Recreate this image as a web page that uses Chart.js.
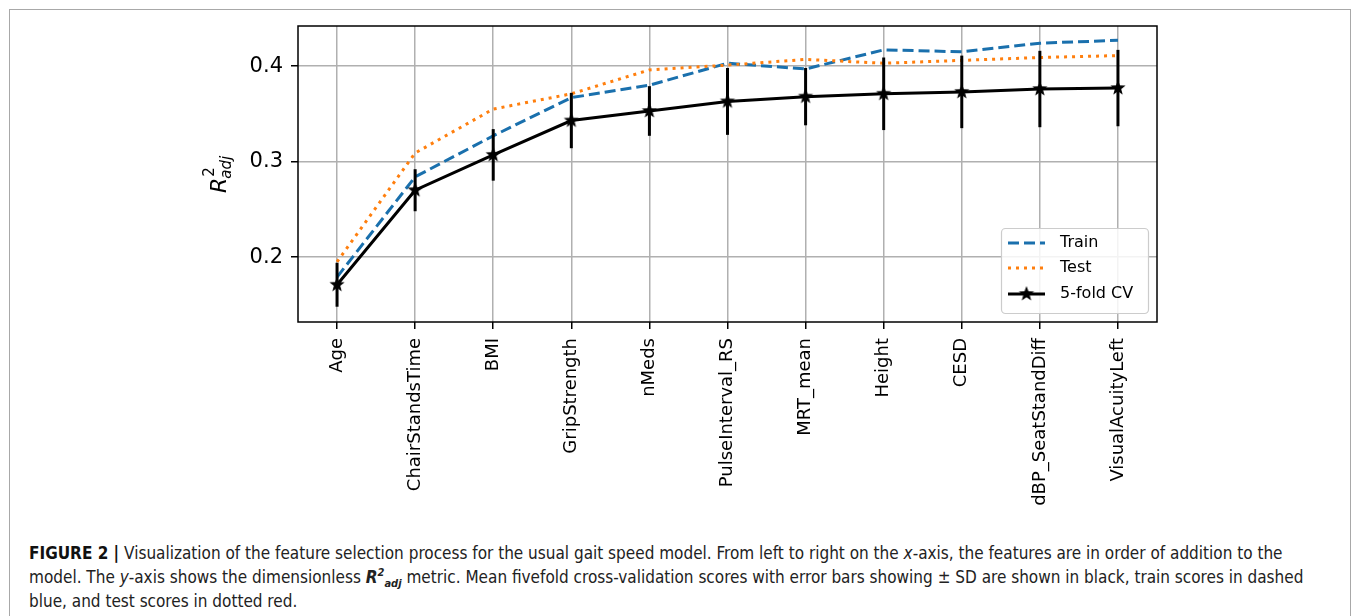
<!DOCTYPE html>
<html>
<head>
<meta charset="utf-8">
<script src="https://cdn.jsdelivr.net/npm/chart.js@4.4.1/dist/chart.umd.min.js"></script>
<style>
  html, body { margin: 0; padding: 0; background: #fff; }
  body { width: 1355px; height: 616px; position: relative; overflow: hidden; }
  #frame { position: absolute; left: 9px; top: 9px; width: 1342px; height: 640px; border: 1.5px solid #a8a8a8; box-sizing: border-box; }
  #wrap { position: absolute; left: 0; top: 0; width: 1355px; height: 530px; }
  #caption { position: absolute; left: 29px; top: 541px; width: 1310px; font-family: "Liberation Sans Narrow", "DejaVu Sans Condensed", sans-serif; font-size: 17px; line-height: 24px; color: #222; white-space: nowrap; }
  #caption b { font-weight: bold; color: #111; }
  .rsym { font-weight: bold; font-style: italic; }
  .rsym sup, .rsym sub { font-size: 11px; line-height: 0; }
</style>
</head>
<body>
<div id="frame"></div>
<div id="wrap"><canvas id="grafico"></canvas></div>
<div id="caption">
  <b>FIGURE 2 |</b> Visualization of the feature selection process for the usual gait speed model. From left to right on the <i>x</i>-axis, the features are in order of addition to the<br>
  model. The <i>y</i>-axis shows the dimensionless <span class="rsym">R<sup>2</sup><sub>adj</sub></span> metric. Mean fivefold cross-validation scores with error bars showing ± SD are shown in black, train scores in dashed<br>
  blue, and test scores in dotted red.
</div>
<script>
// datos
const features = ['Age', 'ChairStandsTime', 'BMI', 'GripStrength', 'nMeds', 'PulseInterval_RS',
                  'MRT_mean', 'Height', 'CESD', 'dBP_SeatStandDiff', 'VisualAcuityLeft'];
const trainR2 = [0.179, 0.284, 0.327, 0.367, 0.380, 0.403, 0.397, 0.417, 0.415, 0.424, 0.427];
const testR2  = [0.195, 0.309, 0.355, 0.371, 0.396, 0.401, 0.407, 0.403, 0.406, 0.409, 0.411];
const cvMean  = [0.171, 0.270, 0.307, 0.343, 0.353, 0.363, 0.368, 0.371, 0.373, 0.376, 0.377];
const cvStd   = [0.023, 0.022, 0.027, 0.029, 0.026, 0.035, 0.030, 0.038, 0.038, 0.040, 0.040];
const yTicks  = [0.2, 0.3, 0.4];

const AZUL = '#1a70ad';
const NARANJA = '#ff7f0e';

// marcador estrella rellena, como el '*' de matplotlib
function crearEstrella(r) {
    const c = document.createElement('canvas');
    const s = Math.ceil(r * 2 + 2);
    c.width = s; c.height = s;
    const g = c.getContext('2d');
    g.translate(s / 2, s / 2);
    g.beginPath();
    for (let k = 0; k < 10; k++) {
        const rad = k % 2 === 0 ? r : r * 0.42;
        const a = -Math.PI / 2 + k * Math.PI / 5;
        g.lineTo(Math.cos(a) * rad, Math.sin(a) * rad);
    }
    g.closePath();
    g.fillStyle = '#000';
    g.fill();
    return c;
}
const estrella = crearEstrella(8);

const pluginEjes = {
    id: 'pluginEjes',
    afterDatasetsDraw(chart) {
        const ctx = chart.ctx;
        const a = chart.chartArea;
        const xs = chart.scales.x, ys = chart.scales.y;
        ctx.save();
        // barras de error (media +- SD)
        ctx.strokeStyle = '#000';
        ctx.lineWidth = 3;
        cvMean.forEach((m, i) => {
            const px = xs.getPixelForValue(i);
            ctx.beginPath();
            ctx.moveTo(px, ys.getPixelForValue(m - cvStd[i]));
            ctx.lineTo(px, ys.getPixelForValue(m + cvStd[i]));
            ctx.stroke();
        });
        // marco del grafico
        ctx.lineWidth = 1.5;
        ctx.strokeRect(a.left, a.top, a.right - a.left, a.bottom - a.top);
        ctx.restore();
    },
    afterDraw(chart) {
        const ctx = chart.ctx;
        const a = chart.chartArea;
        ctx.save();
        // etiqueta del eje y: R^2_adj
        ctx.translate(a.left - 80, (a.top + a.bottom) / 2);
        ctx.rotate(-Math.PI / 2);
        ctx.fillStyle = '#000';
        ctx.textBaseline = 'alphabetic';
        ctx.font = 'italic 22px "DejaVu Sans"';
        const wR = ctx.measureText('R').width;
        ctx.font = '15px "DejaVu Sans"';
        const w2 = ctx.measureText('2').width;
        ctx.font = 'italic 15px "DejaVu Sans"';
        const wAdj = ctx.measureText('adj').width;
        const total = wR + Math.max(w2, wAdj);
        let x0 = -total / 2;
        ctx.font = 'italic 22px "DejaVu Sans"';
        ctx.fillText('R', x0, 8);
        ctx.font = '15px "DejaVu Sans"';
        ctx.fillText('2', x0 + wR + 1, -4);
        ctx.font = 'italic 15px "DejaVu Sans"';
        ctx.fillText('adj', x0 + wR - 1, 13);
        ctx.restore();

        // leyenda
        const L = { x: 1001, y: 228, w: 147, h: 85 };
        ctx.save();
        ctx.beginPath();
        ctx.roundRect(L.x + 0.5, L.y + 0.5, L.w, L.h, 4);
        ctx.fillStyle = 'rgba(255,255,255,0.85)';
        ctx.fill();
        ctx.strokeStyle = '#cccccc';
        ctx.lineWidth = 1.2;
        ctx.stroke();
        const filas = [
            { ds: chart.data.datasets[2], y: 243 },
            { ds: chart.data.datasets[1], y: 268 },
            { ds: chart.data.datasets[0], y: 294 }
        ];
        filas.forEach(f => {
            ctx.beginPath();
            ctx.setLineDash(f.ds.borderDash || []);
            ctx.lineCap = 'butt';
            ctx.strokeStyle = f.ds.borderColor;
            ctx.lineWidth = f.ds.borderWidth;
            ctx.moveTo(1008, f.y);
            ctx.lineTo(1045, f.y);
            ctx.stroke();
            ctx.setLineDash([]);
            if (f.ds.pointRadius > 0) {
                ctx.drawImage(estrella, 1026.5 - estrella.width / 2, f.y - estrella.height / 2);
            }
            ctx.fillStyle = '#000';
            ctx.font = '16px "DejaVu Sans"';
            ctx.textBaseline = 'middle';
            ctx.fillText(f.ds.label, 1060, f.y);
        });
        ctx.restore();
    }
};

new Chart(document.getElementById('grafico'), {
    type: 'line',
    data: {
        labels: features,
        datasets: [
            {
                label: '5-fold CV',
                data: cvMean,
                borderColor: '#000',
                backgroundColor: '#000',
                borderWidth: 3,
                pointStyle: estrella,
                pointRadius: 8,
                pointHoverRadius: 8,
                tension: 0,
                order: 0
            },
            {
                label: 'Test',
                data: testR2,
                borderColor: NARANJA,
                borderWidth: 3,
                borderDash: [3, 5],
                borderCapStyle: 'butt',
                pointRadius: 0,
                tension: 0,
                order: 1
            },
            {
                label: 'Train',
                data: trainR2,
                borderColor: AZUL,
                borderWidth: 3,
                borderDash: [11, 5],
                borderCapStyle: 'butt',
                pointRadius: 0,
                tension: 0,
                order: 2
            }
        ]
    },
    options: {
        responsive: true,
        maintainAspectRatio: false,
        animation: false,
        layout: { padding: { left: 0, top: 26, right: 198, bottom: 0 } },
        plugins: {
            legend: { display: false },
            tooltip: { enabled: false }
        },
        scales: {
            x: {
                type: 'category',
                offset: true,
                grid: { offset: false, color: '#b0b0b0', lineWidth: 1.5, drawTicks: true,
                        tickLength: 7, tickColor: '#000', tickWidth: 1.5 },
                border: { display: false },
                ticks: {
                    autoSkip: false, minRotation: 90, maxRotation: 90, padding: 9,
                    color: '#000', font: { family: 'DejaVu Sans', size: 18 }
                },
                afterFit: s => { s.height = 208; }
            },
            y: {
                type: 'linear',
                min: 0.132,
                max: 0.442,
                grid: { color: '#b0b0b0', lineWidth: 1.5, tickLength: 7, tickColor: '#000', tickWidth: 1.5 },
                border: { display: false },
                ticks: {
                    padding: 8, color: '#000',
                    font: { family: 'DejaVu Sans', size: 21 },
                    callback: v => v.toFixed(1)
                },
                afterBuildTicks: s => { s.ticks = yTicks.map(v => ({ value: v })); },
                afterFit: s => { s.width = 298; }
            }
        }
    },
    plugins: [pluginEjes]
});
</script>
</body>
</html>
